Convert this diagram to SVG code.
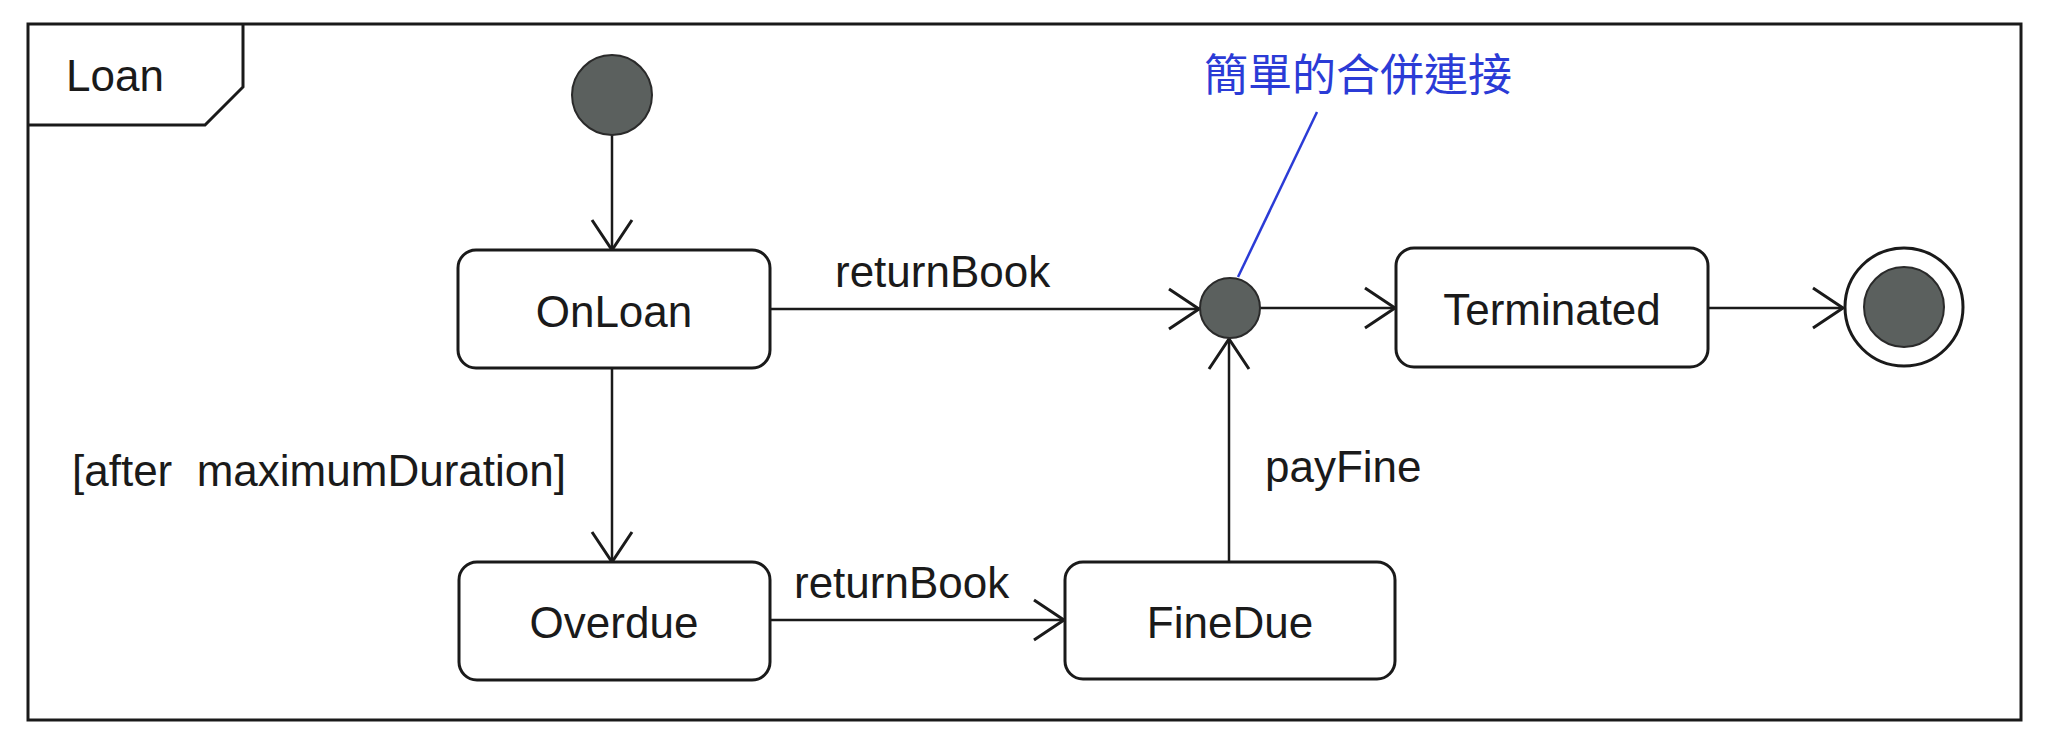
<svg xmlns="http://www.w3.org/2000/svg" width="2061" height="742" viewBox="0 0 2061 742">
<style>
.lbl{font-family:"Liberation Sans",Arial,sans-serif;font-size:44px;fill:#1a1a1a;white-space:pre}
.state{fill:#fff;stroke:#1a1a1a;stroke-width:3}
.dot{fill:#5b605e;stroke:#2a2a2a;stroke-width:2}
.edge{fill:none;stroke:#1a1a1a;stroke-width:2.5}
.note{font-family:"Noto Sans CJK TC","Noto Sans CJK SC",sans-serif;font-size:44px;fill:#2b3bd6}
</style>
<defs>
<marker id="open" viewBox="-33 -23 36 46" refX="0" refY="0" markerWidth="36" markerHeight="46" markerUnits="userSpaceOnUse" orient="auto">
<path d="M-30,-20 L0,0 L-30,20" fill="none" stroke="#1a1a1a" stroke-width="3"/>
</marker>
</defs>
<rect x="0" y="0" width="2061" height="742" fill="#fff"/>
<g id="frame">
<rect x="28" y="24" width="1993" height="696" fill="none" stroke="#1a1a1a" stroke-width="3"/>
<path d="M28,125 L205,125 L243,87 L243,24" fill="none" stroke="#1a1a1a" stroke-width="3"/>
<text class="lbl" x="66" y="91">Loan</text>
</g>
<g id="connectors">
<line class="edge" x1="612" y1="135" x2="612" y2="250" marker-end="url(#open)"/>
<line class="edge" x1="770" y1="309" x2="1199" y2="309" marker-end="url(#open)"/>
<line class="edge" x1="612" y1="368" x2="612" y2="562" marker-end="url(#open)"/>
<line class="edge" x1="770" y1="620" x2="1064" y2="620" marker-end="url(#open)"/>
<line class="edge" x1="1229" y1="562" x2="1229" y2="339" marker-end="url(#open)"/>
<line class="edge" x1="1260" y1="308" x2="1395" y2="308" marker-end="url(#open)"/>
<line class="edge" x1="1708" y1="308" x2="1843" y2="308" marker-end="url(#open)"/>
<line x1="1317" y1="112" x2="1238" y2="277" stroke="#2b3bd6" stroke-width="2.5"/>
<text class="lbl" x="835" y="287">returnBook</text>
<text class="lbl" x="72" y="486">[after  maximumDuration]</text>
<text class="lbl" x="794" y="598">returnBook</text>
<text class="lbl" x="1265" y="482">payFine</text>
</g>
<g id="initial"><circle class="dot" cx="612" cy="95" r="40"/></g>
<g id="OnLoan"><rect class="state" x="458" y="250" width="312" height="118" rx="18"/><text class="lbl" x="614" y="327" text-anchor="middle">OnLoan</text></g>
<g id="Overdue"><rect class="state" x="459" y="562" width="311" height="118" rx="18"/><text class="lbl" x="614" y="638" text-anchor="middle">Overdue</text></g>
<g id="FineDue"><rect class="state" x="1065" y="562" width="330" height="117" rx="18"/><text class="lbl" x="1230" y="638" text-anchor="middle">FineDue</text></g>
<g id="junction"><circle class="dot" cx="1230" cy="308" r="30"/></g>
<g id="Terminated"><rect class="state" x="1396" y="248" width="312" height="119" rx="18"/><text class="lbl" x="1552" y="325" text-anchor="middle">Terminated</text></g>
<g id="final"><circle cx="1904" cy="307" r="59" fill="#fff" stroke="#1a1a1a" stroke-width="3"/><circle class="dot" cx="1904" cy="307" r="40"/></g>
<g id="note"><text class="note" x="1204" y="91">簡單的合併連接</text></g>
</svg>
